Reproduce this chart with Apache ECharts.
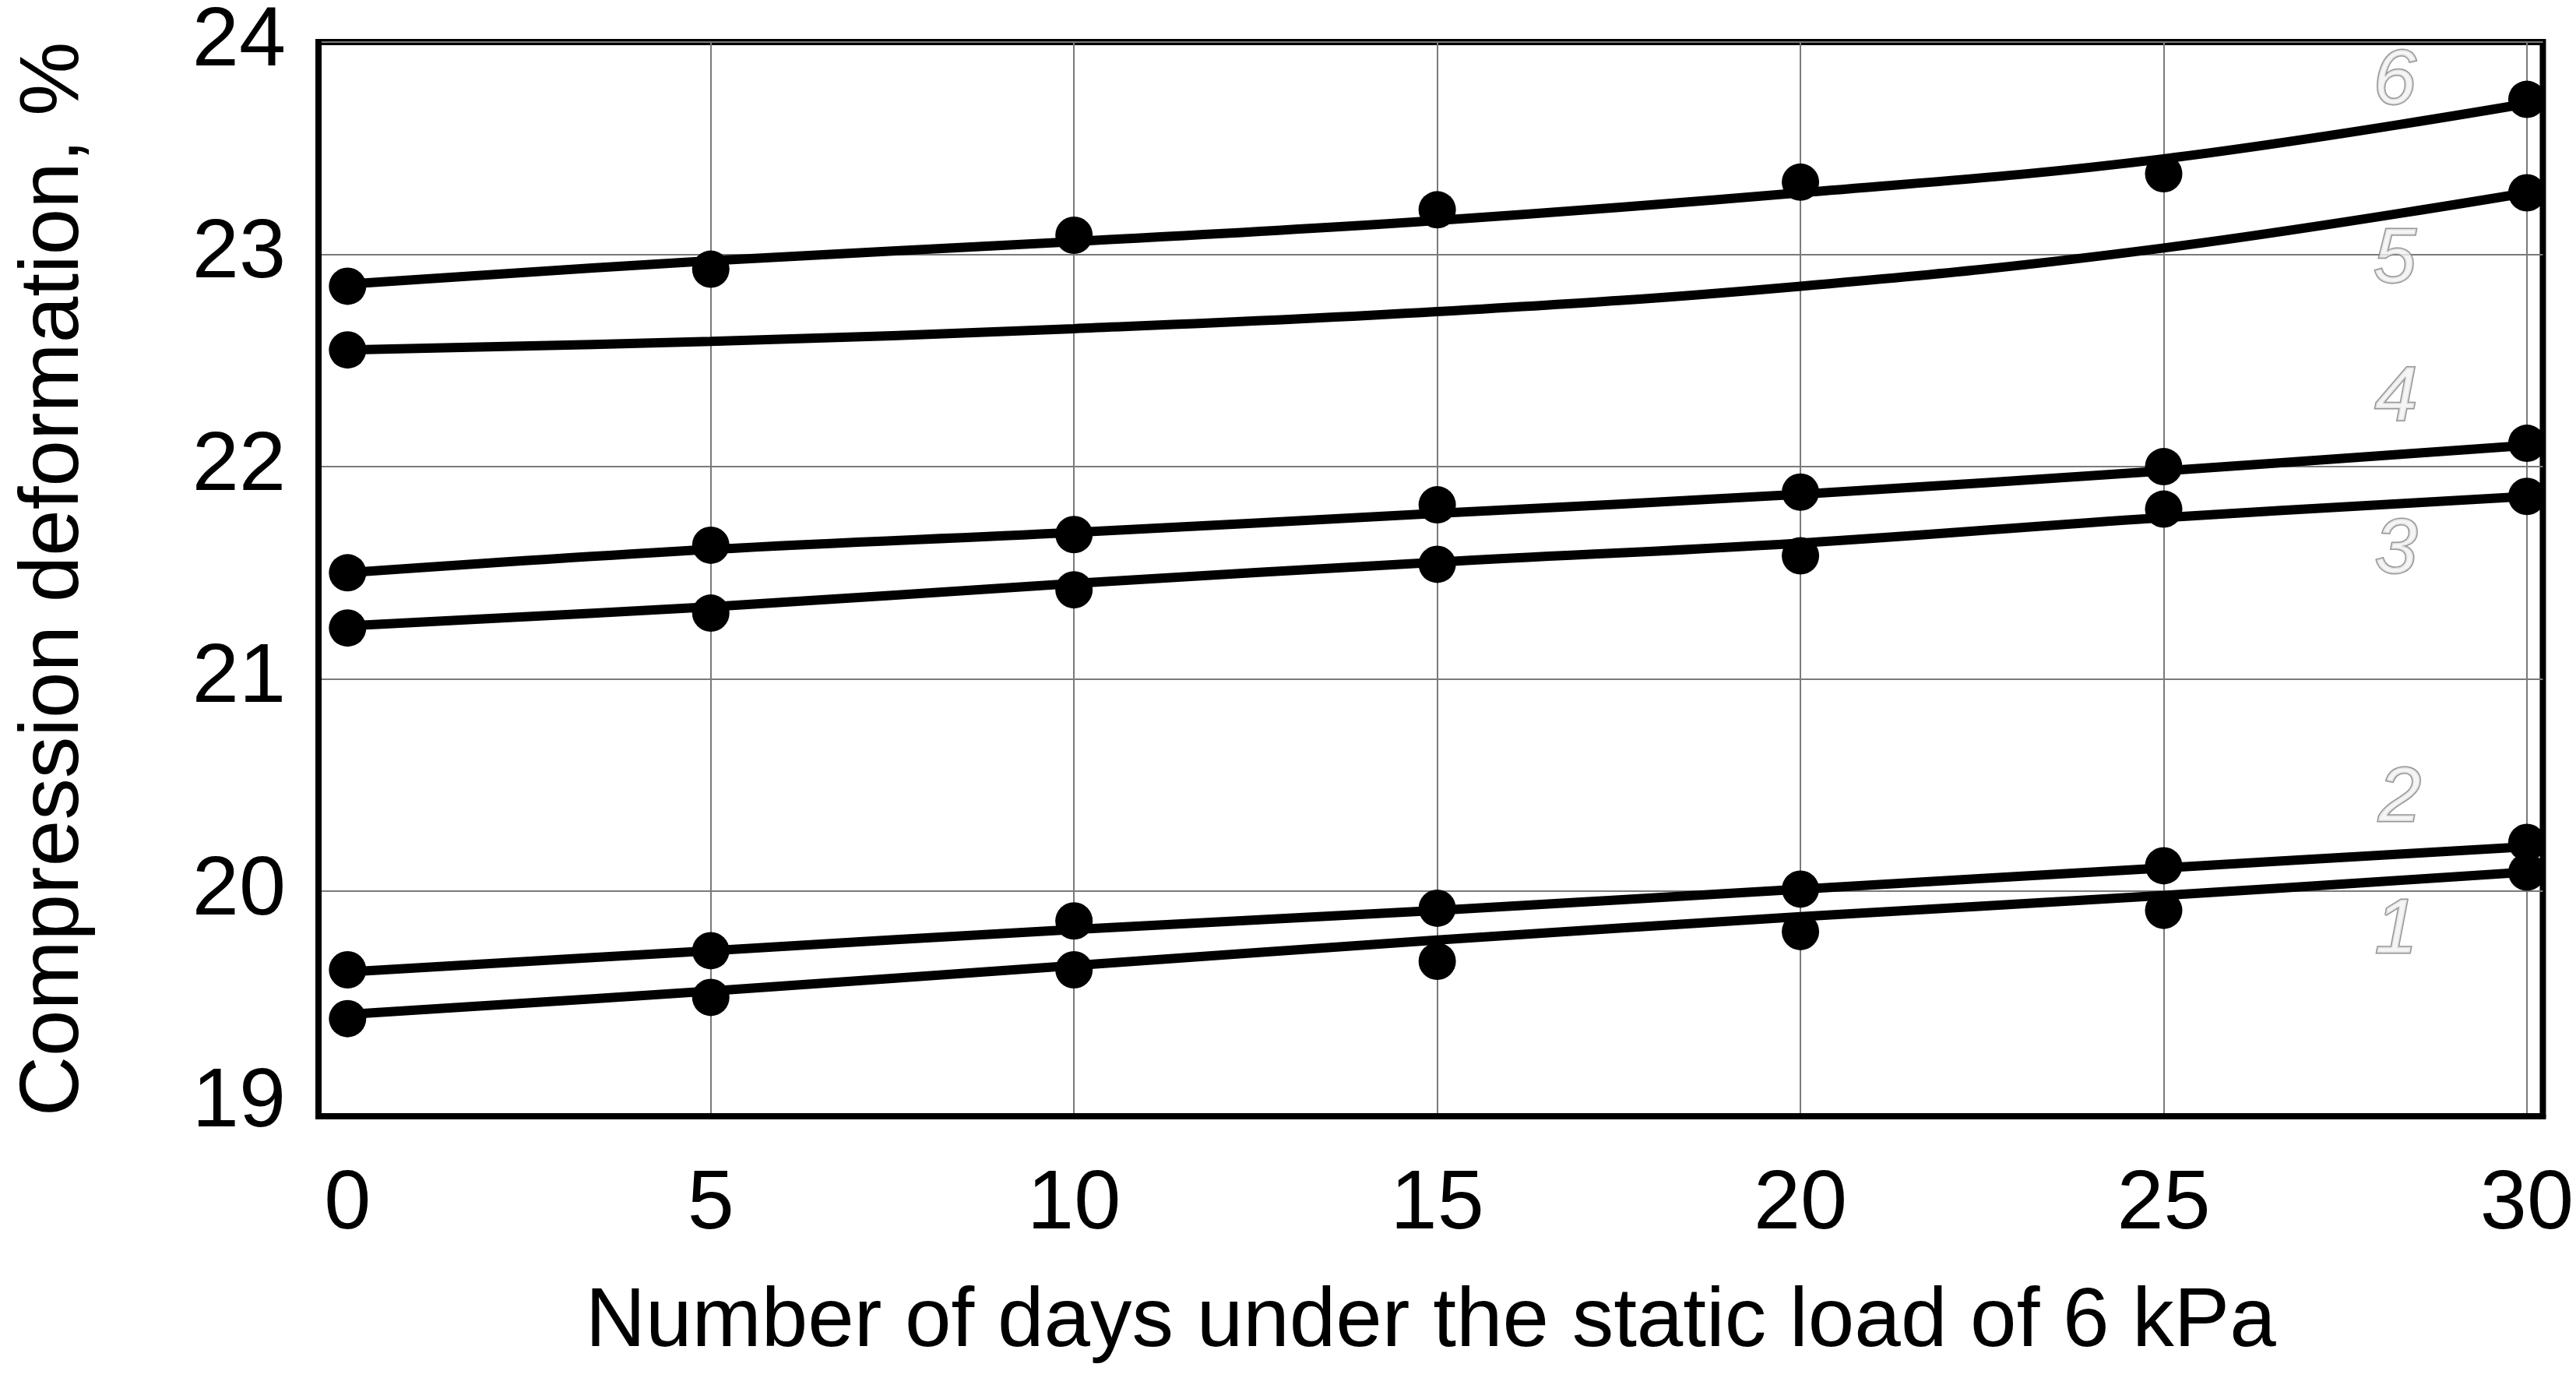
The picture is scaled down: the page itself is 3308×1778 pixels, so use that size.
<!DOCTYPE html>
<html>
<head>
<meta charset="utf-8">
<script src="https://cdn.jsdelivr.net/npm/echarts@6/dist/echarts.min.js"></script>
<style>
html,body{margin:0;padding:0;background:#fff;}
#chart{width:3308px;height:1778px;}
</style>
</head>
<body>
<div id="chart"></div>
<script>
// ---- data ----
const days = [0, 5, 10, 15, 20, 25, 30];
const xTickLabels = [0, 5, 10, 15, 20, 25, 30];
const xGridValues = [5, 10, 15, 20, 25, 30];
const yTickLabels = [19, 20, 21, 22, 23, 24];
const yGridValues = [20, 21, 22, 23, 24];

// fitted curves
const fit1 = [19.42, 19.53, 19.65, 19.77, 19.88, 19.98, 20.09];
const fit2 = [19.62, 19.72, 19.82, 19.91, 20.01, 20.11, 20.21];
const fit3 = [21.25, 21.34, 21.45, 21.55, 21.64, 21.76, 21.86];
const fit4 = [21.50, 21.61, 21.69, 21.78, 21.87, 21.98, 22.10];
const fit5 = [22.55, 22.59, 22.65, 22.73, 22.85, 23.03, 23.29];
const fit6 = [22.86, 22.97, 23.06, 23.16, 23.29, 23.45, 23.71];

// measured points
const pts1 = [19.40, 19.50, 19.63, 19.67, 19.81, 19.91, 20.09];
const pts2 = [19.63, 19.72, 19.86, 19.92, 20.01, 20.12, 20.23];
const pts3 = [21.24, 21.31, 21.42, 21.54, 21.58, 21.80, 21.86];
const pts4 = [21.50, 21.63, 21.68, 21.82, 21.88, 22.00, 22.11];
const pts5 = [22.55, null, null, null, null, null, 23.29];
const pts6 = [22.85, 22.93, 23.09, 23.21, 23.34, 23.38, 23.73];

// curve number labels (data coordinates)
const curveNames = ['1', '2', '3', '4', '5', '6'];
const curveLabelX = [28.2, 28.25, 28.2, 28.2, 28.18, 28.18];
const curveLabelY = [19.81, 20.43, 21.60, 22.32, 22.97, 23.81];

const xTitle = 'Number of days under the static load of 6 kPa';
const yTitle = 'Compression deformation, %';

// ---- chart ----
const FONT = "'Liberation Sans', Arial, sans-serif";
const chart = echarts.init(document.getElementById('chart'), null, {renderer: 'canvas'});

const fits = [fit1, fit2, fit3, fit4, fit5, fit6];
const pts = [pts1, pts2, pts3, pts4, pts5, pts6];
const series = [];
fits.forEach((f, i) => {
  series.push({
    type: 'line',
    name: 'fit' + (i + 1),
    data: days.map((d, j) => [d, f[j]]),
    smooth: 0.4,
    showSymbol: false,
    lineStyle: {color: '#000', width: 12},
    z: 3,
    silent: true
  });
});
pts.forEach((p, i) => {
  series.push({
    type: 'scatter',
    name: 'pts' + (i + 1),
    data: days.map((d, j) => [d, p[j]]).filter(v => v[1] !== null),
    symbol: 'circle',
    symbolSize: 48,
    itemStyle: {color: '#000', opacity: 1},
    z: 4,
    silent: true
  });
});
series.push({
  type: 'scatter',
  name: 'labels',
  data: curveNames.map((n, i) => ({value: [curveLabelX[i], curveLabelY[i]], name: n})),
  symbolSize: 1,
  itemStyle: {color: 'rgba(0,0,0,0)'},
  label: {
    show: true,
    position: 'inside',
    formatter: p => p.name,
    fontFamily: FONT,
    fontStyle: 'italic',
    fontSize: 98,
    color: '#f2f2f2',
    textBorderColor: '#7a7a7a',
    textBorderWidth: 3
  },
  z: 5,
  silent: true
});

chart.setOption({
  animation: false,
  backgroundColor: '#fff',
  grid: {
    left: 409, right: 32, top: 36, bottom: 345,
    show: true, borderColor: '#000', borderWidth: 8, backgroundColor: 'transparent'
  },
  xAxis: {
    type: 'value',
    min: -0.4, max: 30.22,
    axisLine: {show: true, onZero: false, lineStyle: {color: '#000', width: 8}},
    axisTick: {show: false, customValues: xGridValues},
    axisLabel: {
      customValues: xTickLabels,
      fontSize: 108, fontFamily: FONT, color: '#000', margin: 60
    },
    splitLine: {show: true, lineStyle: {color: '#7a7a7a', width: 2}},
    name: xTitle,
    nameLocation: 'middle',
    nameGap: 212,
    nameTextStyle: {fontSize: 107, fontFamily: FONT, color: '#000'}
  },
  yAxis: {
    type: 'value',
    min: 18.94, max: 24,
    axisLine: {show: true, onZero: false, lineStyle: {color: '#000', width: 8}},
    axisTick: {show: false, customValues: yGridValues},
    axisLabel: {
      customValues: yTickLabels,
      fontSize: 108, fontFamily: FONT, color: '#000', margin: 42
    },
    splitLine: {show: true, lineStyle: {color: '#7a7a7a', width: 2}},
    name: yTitle,
    nameLocation: 'middle',
    nameGap: 285,
    nameTextStyle: {fontSize: 107, fontFamily: FONT, color: '#000'}
  },
  series: series
});
</script>
</body>
</html>
